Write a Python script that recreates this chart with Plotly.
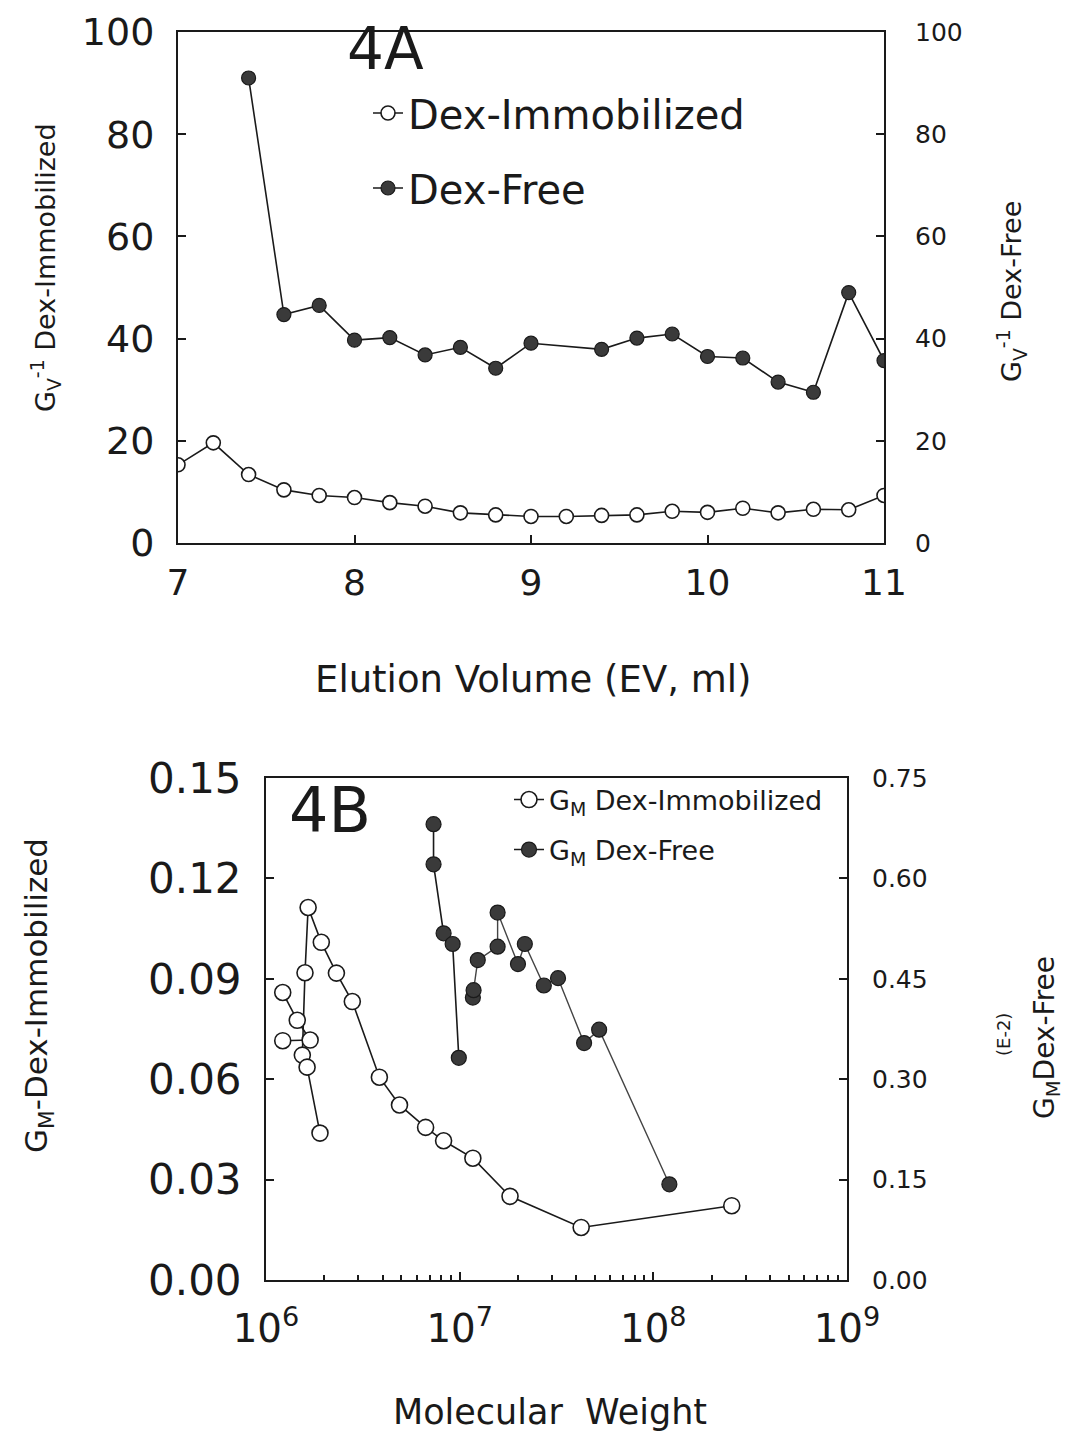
import plotly.graph_objects as go

# ---------------- Panel 4A data ----------------
ev_immob = [7.0, 7.2, 7.4, 7.6, 7.8, 8.0, 8.2, 8.4, 8.6, 8.8, 9.0,
            9.2, 9.4, 9.6, 9.8, 10.0, 10.2, 10.4, 10.6, 10.8, 11.0]
gv_immob = [15.3, 19.6, 13.4, 10.4, 9.3, 8.9, 7.9, 7.2, 5.9, 5.5, 5.2,
            5.2, 5.4, 5.5, 6.2, 6.0, 6.8, 5.9, 6.6, 6.5, 9.3]
ev_free = [7.4, 7.6, 7.8, 8.0, 8.2, 8.4, 8.6, 8.8, 9.0,
           9.4, 9.6, 9.8, 10.0, 10.2, 10.4, 10.6, 10.8, 11.0]
gv_free = [91.0, 44.7, 46.5, 39.7, 40.2, 36.8, 38.3, 34.2, 39.1,
           37.9, 40.1, 40.9, 36.5, 36.2, 31.5, 29.5, 49.0, 35.7]

# ---------------- Panel 4B data ----------------
mw_immob_main = [2.54e8, 4.24e7, 1.82e7, 1.17e7, 8.26e6, 6.67e6, 4.89e6, 3.85e6,
                 2.79e6, 2.31e6, 1.93e6, 1.65e6, 1.59e6, 1.54e6, 1.63e6, 1.90e6]
gm_immob_main = [0.0222, 0.0157, 0.0250, 0.0364, 0.0416, 0.0456, 0.0523, 0.0606,
                 0.0832, 0.0917, 0.1009, 0.1113, 0.0918, 0.0672, 0.0636, 0.0439]
mw_immob_low = [1.22e6, 1.45e6, 1.69e6, 1.22e6]
gm_immob_low = [0.0859, 0.0776, 0.0717, 0.0715]

mw_free_a = [7.33e6, 7.33e6, 8.26e6, 9.2e6, 9.9e6]
gm_free_a = [0.681, 0.621, 0.518, 0.502, 0.332]
mw_free_b = [1.17e7, 1.18e7, 1.24e7, 1.57e7, 1.57e7, 2.0e7, 2.17e7, 2.72e7,
             3.22e7, 4.39e7, 5.25e7, 1.21e8]
gm_free_b = [0.422, 0.433, 0.478, 0.498, 0.549, 0.472, 0.502, 0.440,
             0.451, 0.354, 0.374, 0.143]

W, H = 1071, 1433
OFF = 8  # page body margin in the browser
FONT = "DejaVu Sans"
INK = "#1a1a1a"


def px(x):
    return (x - OFF) / W


def py(y):
    return 1 - (y - OFF) / H


open_marker_a = dict(symbol="circle", size=14, color="white", line=dict(color=INK, width=1.6))
fill_marker_a = dict(symbol="circle", size=14, color="#3a3a3a", line=dict(color=INK, width=1.2))
open_marker_b = dict(symbol="circle", size=16, color="white", line=dict(color=INK, width=1.6))
fill_marker_b = dict(symbol="circle", size=15, color="#3a3a3a", line=dict(color=INK, width=1.2))
line_style = dict(color=INK, width=1.6)

fig = go.Figure()

# Panel 4A traces
fig.add_trace(go.Scatter(x=ev_immob, y=gv_immob, mode="lines+markers", name="Dex-Immobilized",
                         marker=open_marker_a, line=line_style, xaxis="x", yaxis="y",
                         legend="legend"))
fig.add_trace(go.Scatter(x=ev_free, y=gv_free, mode="lines+markers", name="Dex-Free",
                         marker=fill_marker_a, line=line_style, xaxis="x", yaxis="y2",
                         legend="legend2"))

# Panel 4B traces
fig.add_trace(go.Scatter(x=mw_immob_main, y=gm_immob_main, mode="lines+markers",
                         name="G<sub>M</sub> Dex-Immobilized",
                         marker=open_marker_b, line=line_style, xaxis="x3", yaxis="y3",
                         legend="legend3"))
fig.add_trace(go.Scatter(x=mw_immob_low, y=gm_immob_low, mode="lines+markers",
                         showlegend=False, marker=open_marker_b, line=line_style,
                         xaxis="x3", yaxis="y3"))
fig.add_trace(go.Scatter(x=mw_free_a, y=gm_free_a, mode="lines+markers",
                         name="G<sub>M</sub> Dex-Free",
                         marker=fill_marker_b, line=line_style, xaxis="x3", yaxis="y4",
                         legend="legend4"))
fig.add_trace(go.Scatter(x=mw_free_b, y=gm_free_b, mode="lines+markers",
                         showlegend=False, marker=fill_marker_b,
                         line=dict(color="#444444", width=1.4),
                         xaxis="x3", yaxis="y4"))

axis_common = dict(showline=True, linecolor=INK, linewidth=2, mirror=True,
                   showgrid=False, zeroline=False, ticks="inside", tickcolor=INK,
                   tickwidth=1.5, ticklen=8, automargin=False, ticklabeloverflow="allow")
right_common = dict(showgrid=False, zeroline=False, showline=False, ticks="inside",
                    tickcolor=INK, tickwidth=1.5, ticklen=8, automargin=False,
                    ticklabeloverflow="allow")

fig.update_layout(
    width=W, height=H, autosize=False,
    margin=dict(l=0, r=0, t=0, b=0, autoexpand=False),
    paper_bgcolor="white", plot_bgcolor="white",
    font=dict(family=FONT, color=INK),
    # ----- panel A -----
    xaxis=dict(domain=[px(178), px(884)], range=[7, 11], dtick=1, anchor="y",
               tickfont=dict(size=36), ticklabelstandoff=7, **axis_common),
    yaxis=dict(domain=[py(543), py(32)], range=[0, 100], dtick=20, anchor="x",
               tickfont=dict(size=38), ticklabelstandoff=14, **axis_common),
    yaxis2=dict(overlaying="y", side="right", range=[0, 100], dtick=20, anchor="x",
                tickfont=dict(size=25), ticklabelstandoff=30, **right_common),
    # ----- panel B -----
    xaxis3=dict(domain=[px(266), px(847)], type="log", range=[6, 9], dtick=1,
                exponentformat="power", anchor="y3",
                tickfont=dict(size=31), ticklabelstandoff=15,
                minor=dict(ticks="inside", ticklen=5, tickcolor=INK, dtick="D1", showgrid=False),
                **axis_common),
    yaxis3=dict(domain=[py(1280), py(778)], range=[0, 0.15], dtick=0.03, tickformat=".2f",
                anchor="x3", tickfont=dict(size=42), ticklabelstandoff=14, **axis_common),
    yaxis4=dict(overlaying="y3", side="right", range=[0, 0.75], dtick=0.15, tickformat=".2f",
                anchor="x3", tickfont=dict(size=25), ticklabelstandoff=24, **right_common),
    legend=dict(x=px(368), y=py(113), xanchor="left", yanchor="middle",
                font=dict(size=40), bgcolor="rgba(0,0,0,0)"),
    legend2=dict(x=px(368), y=py(188), xanchor="left", yanchor="middle",
                 font=dict(size=40), bgcolor="rgba(0,0,0,0)"),
    legend3=dict(x=px(509), y=py(800), xanchor="left", yanchor="middle",
                 font=dict(size=27), bgcolor="rgba(0,0,0,0)"),
    legend4=dict(x=px(509), y=py(850), xanchor="left", yanchor="middle",
                 font=dict(size=27), bgcolor="rgba(0,0,0,0)"),
)

annotations = [
    dict(text="4A", x=px(385), y=py(49), font=dict(size=58)),
    dict(text="4B", x=px(330), y=py(810), font=dict(size=62)),
    dict(text="G<sub>V</sub><sup>-1</sup> Dex-Immobilized", x=px(45), y=py(268),
         textangle=-90, font=dict(size=27)),
    dict(text="G<sub>V</sub><sup>-1</sup> Dex-Free", x=px(1012), y=py(292),
         textangle=-90, font=dict(size=27)),
    dict(text="Elution Volume (EV, ml)", x=px(533), y=py(680), font=dict(size=37)),
    dict(text="G<sub>M</sub>-Dex-Immobilized", x=px(38), y=py(996),
         textangle=-90, font=dict(size=31)),
    dict(text="(E-2)", x=px(1003), y=py(1035), textangle=-90, font=dict(size=18)),
    dict(text="G<sub>M</sub>Dex-Free", x=px(1046), y=py(1038),
         textangle=-90, font=dict(size=28)),
    dict(text="Molecular  Weight", x=px(550), y=py(1412), font=dict(size=35)),
]
for a in annotations:
    a.update(xref="paper", yref="paper", showarrow=False, xanchor="center",
             yanchor="middle")
fig.update_layout(annotations=annotations)

fig.write_html("out.html")
